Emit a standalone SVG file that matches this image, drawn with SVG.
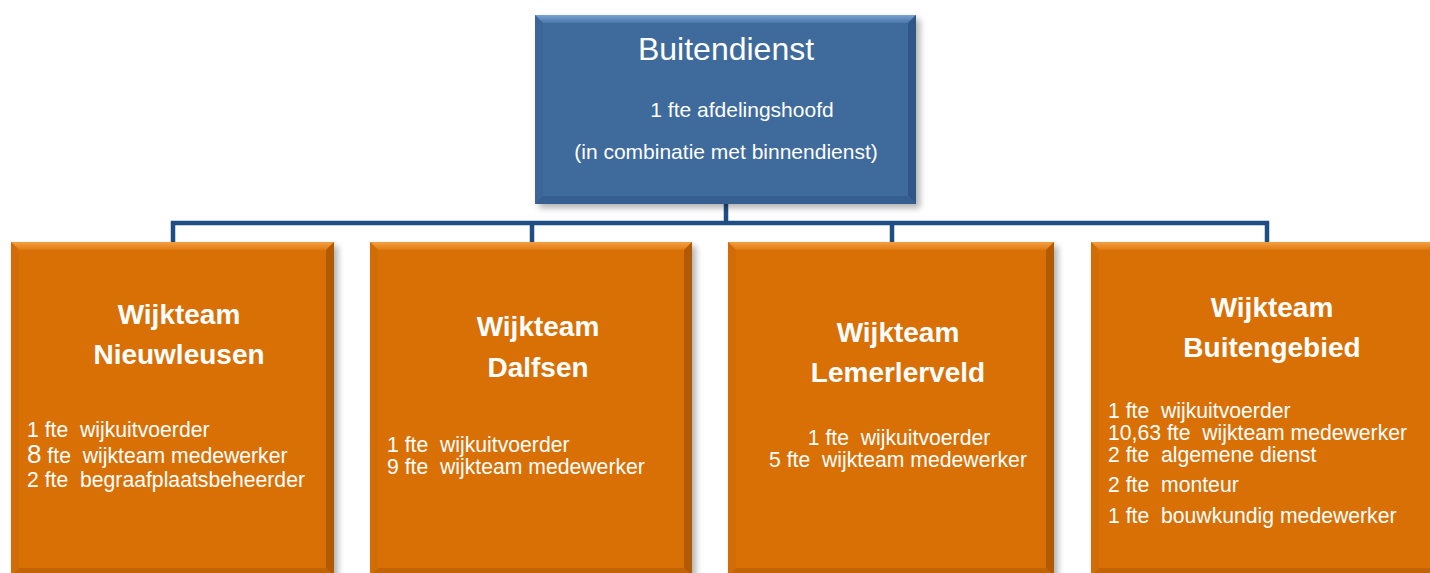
<svg xmlns="http://www.w3.org/2000/svg" width="1430" height="573" viewBox="0 0 1430 573">
<defs>
<style>
.t{font-family:"Liberation Sans",Arial,sans-serif;fill:#ffffff;white-space:pre}
.title{font-size:32px;text-anchor:middle}
.sub{font-size:21px;text-anchor:middle}
.h{font-size:28px;font-weight:bold;text-anchor:middle}
.b{font-size:21.2px}
.bm{font-size:21.2px;text-anchor:middle}
.conn{fill:none;stroke:#1F4E85;stroke-width:4.5}
.oMain{fill:#D97006}
.oTop{fill:url(#oTopG)}
.oLeft{fill:#D26C06}
.oRight{fill:#B05A05}
.oBot{fill:#C26306}
.bMain{fill:#3E6A9C}
.bTop{fill:url(#bTopG)}
.bLeft{fill:#3C6698}
.bRight{fill:#2F5687}
.bBot{fill:#365F91}
</style>
<linearGradient id="oTopG" x1="0" y1="0" x2="0" y2="1">
<stop offset="0" stop-color="#F3A043"/>
<stop offset="1" stop-color="#E07A10"/>
</linearGradient>
<linearGradient id="bTopG" x1="0" y1="0" x2="0" y2="1">
<stop offset="0" stop-color="#7BA2D2"/>
<stop offset="1" stop-color="#4A77AA"/>
</linearGradient>
<filter id="sh" x="-5%" y="-5%" width="115%" height="115%">
<feGaussianBlur stdDeviation="3"/>
</filter>
</defs>
<rect width="1430" height="573" fill="#ffffff"/>

<g id="connectors">
<path class="conn" d="M726 204 V223 M173 242 V223 H1267 V242 M532 223 V242 M892 223 V242"/>
</g>

<g id="buitendienst">
<rect x="539" y="19" width="381" height="189" fill="#000" opacity="0.3" filter="url(#sh)"/>
<rect class="bMain" x="535" y="15" width="381" height="189"/>
<polygon class="bTop" points="535,15 916,15 908,23 543,23"/>
<polygon class="bLeft" points="535,15 543,23 543,196 535,204"/>
<polygon class="bRight" points="916,15 916,204 908,196 908,23"/>
<polygon class="bBot" points="535,204 916,204 908,196 543,196"/>
<text class="t title" x="726" y="60">Buitendienst</text>
<text class="t sub" x="742" y="117">1 fte afdelingshoofd</text>
<text class="t sub" x="726" y="159">(in combinatie met binnendienst)</text>
</g>

<g id="nieuwleusen">
<rect x="15" y="246" width="323" height="340" fill="#000" opacity="0.3" filter="url(#sh)"/>
<rect class="oMain" x="11" y="242" width="323" height="334"/>
<polygon class="oTop" points="11,242 334,242 326,250 19,250"/>
<polygon class="oLeft" points="11,242 19,250 19,568 11,576"/>
<polygon class="oRight" points="334,242 334,576 326,568 326,250"/>
<polygon class="oBot" points="11,576 334,576 326,568 19,568"/>
<text class="t h" x="179" y="324">Wijkteam</text>
<text class="t h" x="179" y="364">Nieuwleusen</text>
<text class="t b" x="27" y="437">1 fte  wijkuitvoerder</text>
<text class="t b" x="27" y="463"><tspan font-size="26">8</tspan> fte  wijkteam medewerker</text>
<text class="t b" x="27" y="487">2 fte  begraafplaatsbeheerder</text>
</g>

<g id="dalfsen">
<rect x="374" y="246" width="322" height="340" fill="#000" opacity="0.3" filter="url(#sh)"/>
<rect class="oMain" x="370" y="242" width="322" height="334"/>
<polygon class="oTop" points="370,242 692,242 684,250 378,250"/>
<polygon class="oLeft" points="370,242 378,250 378,568 370,576"/>
<polygon class="oRight" points="692,242 692,576 684,568 684,250"/>
<polygon class="oBot" points="370,576 692,576 684,568 378,568"/>
<text class="t h" x="538" y="336">Wijkteam</text>
<text class="t h" x="538" y="377">Dalfsen</text>
<text class="t b" x="387" y="452">1 fte  wijkuitvoerder</text>
<text class="t b" x="387" y="474">9 fte  wijkteam medewerker</text>
</g>

<g id="lemerlerveld">
<rect x="732" y="246" width="326" height="340" fill="#000" opacity="0.3" filter="url(#sh)"/>
<rect class="oMain" x="728" y="242" width="326" height="334"/>
<polygon class="oTop" points="728,242 1054,242 1046,250 736,250"/>
<polygon class="oLeft" points="728,242 736,250 736,568 728,576"/>
<polygon class="oRight" points="1054,242 1054,576 1046,568 1046,250"/>
<polygon class="oBot" points="728,576 1054,576 1046,568 736,568"/>
<text class="t h" x="898" y="342">Wijkteam</text>
<text class="t h" x="898" y="382">Lemerlerveld</text>
<text class="t bm" x="899" y="445">1 fte  wijkuitvoerder</text>
<text class="t bm" x="898" y="467">5 fte  wijkteam medewerker</text>
</g>

<g id="buitengebied">
<rect x="1095" y="246" width="349" height="340" fill="#000" opacity="0.3" filter="url(#sh)"/>
<rect class="oMain" x="1091" y="242" width="349" height="334"/>
<polygon class="oTop" points="1091,242 1440,242 1432,250 1099,250"/>
<polygon class="oLeft" points="1091,242 1099,250 1099,568 1091,576"/>
<polygon class="oBot" points="1091,576 1440,576 1432,568 1099,568"/>
<text class="t h" x="1272" y="317">Wijkteam</text>
<text class="t h" x="1272" y="357">Buitengebied</text>
<text class="t b" x="1108" y="418">1 fte  wijkuitvoerder</text>
<text class="t b" x="1108" y="440">10,63 fte  wijkteam medewerker</text>
<text class="t b" x="1108" y="462">2 fte  algemene dienst</text>
<text class="t b" x="1108" y="492">2 fte  monteur</text>
<text class="t b" x="1108" y="523">1 fte  bouwkundig medewerker</text>
</g>
</svg>
